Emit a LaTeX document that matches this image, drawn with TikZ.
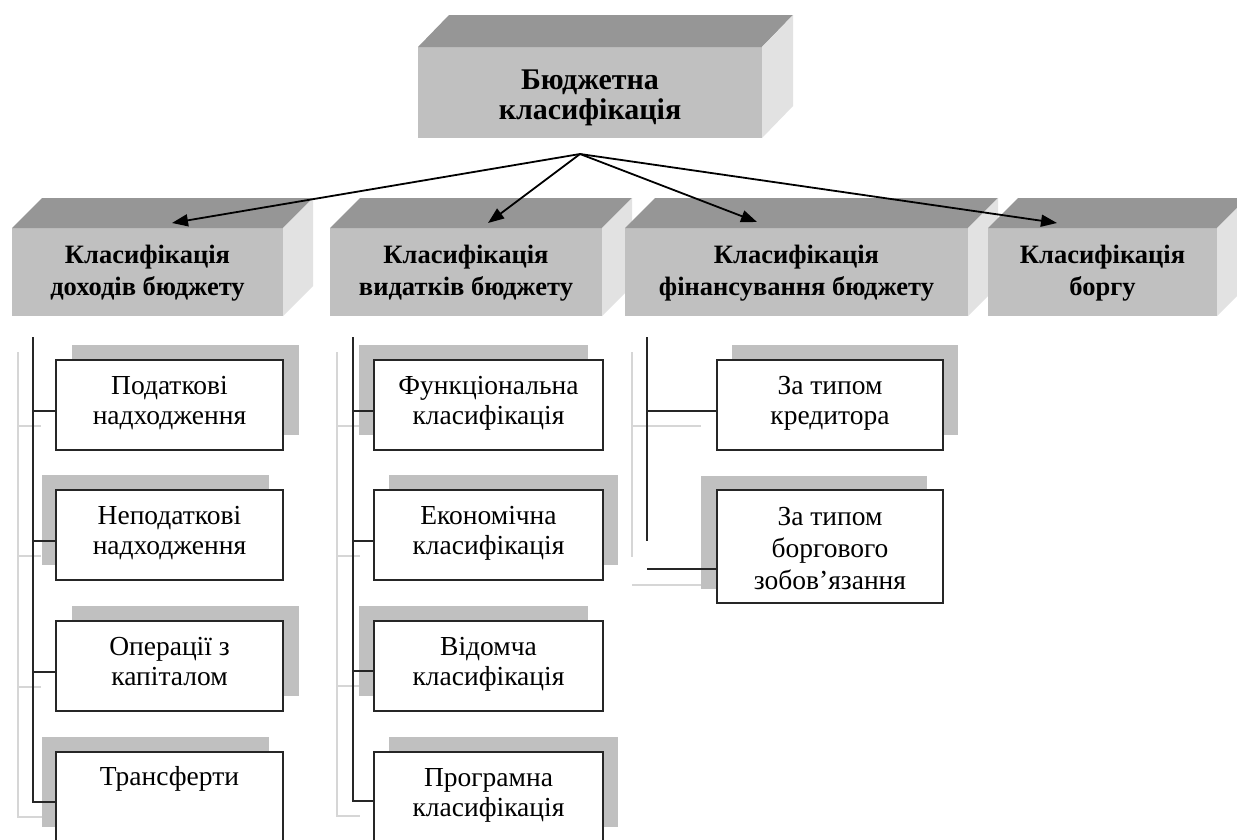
\documentclass[tikz,border=0pt]{standalone}
\usepackage{fontspec}
\setmainfont{Liberation Serif}
\usetikzlibrary{arrows.meta,calc}
\definecolor{topc}{RGB}{150,150,150}
\definecolor{frontc}{RGB}{192,192,192}
\definecolor{sidec}{RGB}{226,226,226}
\definecolor{shadc}{RGB}{192,192,192}
\definecolor{ghostc}{RGB}{214,214,214}
\pgfdeclarelayer{bgl}
\pgfdeclarelayer{ghostl}
\pgfdeclarelayer{shadowl}
\pgfsetlayers{bgl,ghostl,shadowl,main}
\newcommand\cubefaces[3]{%
  \fill[topc] (#1.north west) -- ++(#2,#3) -- ([shift={(#2,#3)}]#1.north east) -- (#1.north east) -- cycle;
  \fill[sidec] (#1.north east) -- ++(#2,#3) -- ([shift={(#2,#3)}]#1.south east) -- (#1.south east) -- cycle;}
\newcommand\boxtext[4]{\parbox[c][#2pt][t]{#1pt}{\centering\rule{0pt}{#3pt}#4}}
\newcommand\shadowof[3]{\fill[shadc] ([shift={(#2,#3)}]#1.north west) rectangle ([shift={(#2,#3)}]#1.south east);}
\tikzset{
  front/.style={fill=frontc, inner sep=0pt, outer sep=0pt,
    font=\bfseries\fontsize{26.5}{32}\selectfont},
  subbox/.style={draw=black!85, line width=1.2pt, fill=white, inner sep=0pt, outer sep=0pt,
    font=\fontsize{27.5}{30}\selectfont},
  link/.style={line width=1.4pt, black!85},
  ghost/.style={line width=1.5pt, ghostc},
  arr/.style={line width=1.8pt, -{Triangle[length=16pt,width=12pt]}}
}
\begin{document}
\begin{tikzpicture}[x=1pt,y=-1pt]
\useasboundingbox (0,0) rectangle (1237,839);
\begin{pgfonlayer}{bgl}
\fill[white] (0,0) rectangle (1237,839);
\end{pgfonlayer}
\clip (0,0) rectangle (1237,839);

% top 3D box
\node[front, font=\bfseries\fontsize{30}{30}\selectfont] (root) at (590,92.5) {\boxtext{344}{91}{42}{Бюджетна\\класифікація}};
\cubefaces{root}{31}{-32}

% second row
\node[front] (inc) at (147.5,272) {\boxtext{271}{88}{35}{Класифікація\\доходів бюджету}};
\cubefaces{inc}{30}{-30}
\node[front] (exp) at (466,272) {\boxtext{272}{88}{35}{Класифікація\\видатків бюджету}};
\cubefaces{exp}{30}{-30}
\node[front] (fin) at (796.5,272) {\boxtext{343}{88}{35}{Класифікація\\фінансування бюджету}};
\cubefaces{fin}{30}{-30}
\node[front] (debt) at (1102.5,272) {\boxtext{229}{88}{35}{Класифікація\\боргу}};
\cubefaces{debt}{30}{-30}

% arrows
\coordinate (hub) at (580,154);
\coordinate (t1) at (172,223);
\coordinate (t2) at (488,223);
\coordinate (t3) at (757,222);
\coordinate (t4) at (1057,223);
\draw[arr] (hub) -- (t1);
\draw[arr] (hub) -- (t2);
\draw[arr] (hub) -- (t3);
\draw[arr] (hub) -- (t4);

% column 1
\node[subbox] (p1) at (169.5,405) {\boxtext{227}{90}{34}{Податкові\\надходження}};
\node[subbox] (p2) at (169.5,535) {\boxtext{227}{90}{34}{Неподаткові\\надходження}};
\node[subbox] (p3) at (169.5,666) {\boxtext{227}{90}{34}{Операції з\\капіталом}};
\node[subbox] (p4) at (169.5,797) {\boxtext{227}{90}{33}{Трансферти}};
% column 2
\node[subbox] (f1) at (488.5,405) {\boxtext{229}{90}{34}{Функціональна\\класифікація}};
\node[subbox] (f2) at (488.5,535) {\boxtext{229}{90}{34}{Економічна\\класифікація}};
\node[subbox] (f3) at (488.5,666) {\boxtext{229}{90}{34}{Відомча\\класифікація}};
\node[subbox] (f4) at (488.5,797) {\boxtext{229}{90}{34}{Програмна\\класифікація}};
% column 3
\node[subbox] (k1) at (830,405) {\boxtext{226}{90}{34}{За типом\\кредитора}};
\node[subbox, font=\fontsize{27.5}{32}\selectfont] (k2) at (830,546.5) {\boxtext{226}{113}{35}{За типом\\боргового\\зобов’язання}};

\begin{pgfonlayer}{shadowl}
\shadowof{p1}{16}{-15}
\shadowof{p2}{-14}{-15}
\shadowof{p3}{16}{-15}
\shadowof{p4}{-14}{-15}
\shadowof{f1}{-15}{-15}
\shadowof{f2}{15}{-15}
\shadowof{f3}{-15}{-15}
\shadowof{f4}{15}{-15}
\shadowof{k1}{15}{-15}
\shadowof{k2}{-16}{-14}
\end{pgfonlayer}

% connector points
\coordinate (a1) at ([yshift=-6pt]p1.west);
\coordinate (a2) at ([yshift=-6pt]p2.west);
\coordinate (a3) at ([yshift=-6pt]p3.west);
\coordinate (a4) at ([yshift=-5pt]p4.west);
\coordinate (b1) at ([yshift=-6pt]f1.west);
\coordinate (b2) at ([yshift=-6pt]f2.west);
\coordinate (b3) at ([yshift=-5pt]f3.west);
\coordinate (b4) at ([yshift=-4pt]f4.west);
\coordinate (d1) at ([yshift=-6pt]k1.west);
\coordinate (d2) at ([yshift=-22.5pt]k2.west);
\coordinate (c1) at (33,337);
\coordinate (c2) at (353,337);
\coordinate (c3) at (647,337);
\coordinate (c3end) at (647,541);

\draw[link] (c1) |- (a4);
\draw[link] (c1 |- a1) -- (a1);
\draw[link] (c1 |- a2) -- (a2);
\draw[link] (c1 |- a3) -- (a3);
\draw[link] (c2) |- (b4);
\draw[link] (c2 |- b1) -- (b1);
\draw[link] (c2 |- b2) -- (b2);
\draw[link] (c2 |- b3) -- (b3);
\draw[link] (c3) -- (c3end);
\draw[link] (c3 |- d1) -- (d1);
\draw[link] (c3 |- d2) -- (d2);

\begin{pgfonlayer}{ghostl}
\draw[ghost] ($(c1)+(-15,15)$) |- ($(a4)+(-14,15)$);
\draw[ghost] ($(a1)+(-38,15)$) -- ($(a1)+(-15,15)$);
\draw[ghost] ($(a2)+(-38,15)$) -- ($(a2)+(-15,15)$);
\draw[ghost] ($(a3)+(-38,15)$) -- ($(a3)+(-15,15)$);
\draw[ghost] ($(c2)+(-16,15)$) |- ($(b4)+(-14,15)$);
\draw[ghost] ($(b1)+(-37,15)$) -- ($(b1)+(-14,15)$);
\draw[ghost] ($(b2)+(-37,15)$) -- ($(b2)+(-14,15)$);
\draw[ghost] ($(b3)+(-37,15)$) -- ($(b3)+(-14,15)$);
\draw[ghost] ($(c3)+(-15,15)$) -- ($(c3end)+(-15,16)$);
\draw[ghost] ($(d1)+(-85,15)$) -- ($(d1)+(-16,15)$);
\draw[ghost] ($(d2)+(-85,16)$) -- ($(d2)+(-15,16)$);
\end{pgfonlayer}
\end{tikzpicture}
\end{document}
